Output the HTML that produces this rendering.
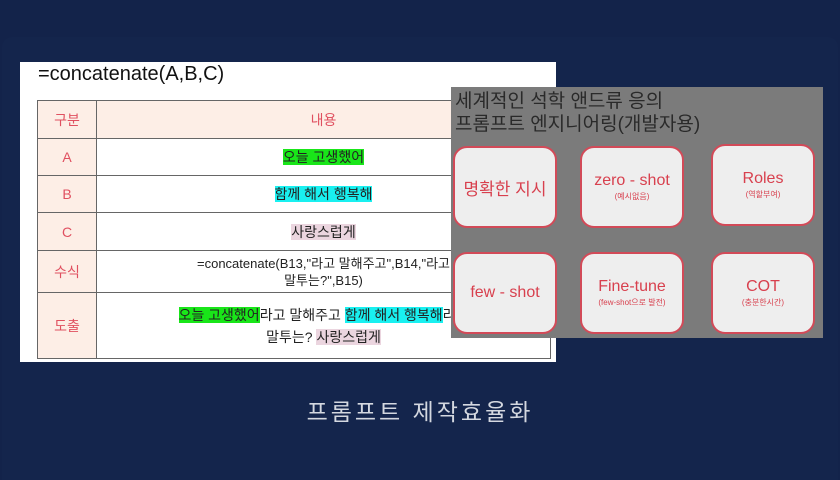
<!DOCTYPE html>
<html><head><meta charset="utf-8"><style>
html,body{margin:0;width:840px;height:480px;overflow:hidden}
body{background:#13234a;position:relative;font-family:"Liberation Sans","Noto Sans CJK KR",sans-serif}
.panel{position:absolute;left:2px;top:37px;width:836px;height:443px;background:#14254c;border-radius:10px 10px 0 0}
.white{position:absolute;left:20px;top:62px;width:536px;height:300px;background:#fff}
.f{position:absolute;left:38px;top:63px;font-size:20px;color:#111}
table{position:absolute;left:37px;top:100px;width:514px;border-collapse:collapse;font-size:14px}
td{border:1.5px solid #666;text-align:center;color:#222;padding:0}
td.k{width:58px;background:#fdeee6;color:#e05060}
.g{background:#19e619}.c{background:#19f0f0}.p{background:#ebd5df}
.gray{position:absolute;left:451px;top:87px;width:372px;height:251px;background:#7b7b7b}
.t{position:absolute;left:455px;top:90px;font-size:19px;color:#2a2a2a;line-height:23px}
.b{position:absolute;width:104px;height:82px;background:#eeeeee;border:2px solid #d24a58;border-radius:14px;box-sizing:border-box;color:#d8404e;text-align:center;display:flex;flex-direction:column;justify-content:center;font-size:16px}
.b small{font-size:8px;margin-top:1px}
.cap{position:absolute;left:0;width:840px;top:393px;text-align:center;font-size:23px;color:#d4d8e0;letter-spacing:3px}
</style></head><body>
<div class="panel"></div>
<div class="white"></div>
<div class="f">=concatenate(A,B,C)</div>
<table>
<tr style="height:38px"><td class="k">구분</td><td style="background:#fdeee6;color:#e05060">내용</td></tr>
<tr style="height:37px"><td class="k">A</td><td><span class="g">오늘 고생했어</span></td></tr>
<tr style="height:37px"><td class="k">B</td><td><span class="c">함께 해서 행복해</span></td></tr>
<tr style="height:38px"><td class="k">C</td><td><span class="p">사랑스럽게</span></td></tr>
<tr style="height:42px"><td class="k">수식</td><td style="font-size:13px;line-height:17px">=concatenate(B13,"라고 말해주고",B14,"라고<br>말투는?",B15)</td></tr>
<tr style="height:66px"><td class="k">도출</td><td style="line-height:22px"><span class="g">오늘 고생했어</span>라고 말해주고 <span class="c">함께 해서 행복해</span>라고<br>말투는? <span class="p">사랑스럽게</span></td></tr>
</table>
<div class="gray"></div>
<div class="t">세계적인 석학 앤드류 응의<br>프롬프트 엔지니어링(개발자용)</div>
<div class="b" style="left:453px;top:146px;font-size:17px">명확한 지시</div>
<div class="b" style="left:580px;top:146px">zero - shot<small>(예시없음)</small></div>
<div class="b" style="left:711px;top:144px">Roles<small>(역할부여)</small></div>
<div class="b" style="left:453px;top:252px">few - shot</div>
<div class="b" style="left:580px;top:252px">Fine-tune<small>(few-shot으로 발전)</small></div>
<div class="b" style="left:711px;top:252px">COT<small>(충분한시간)</small></div>
<div class="cap">프롬프트 제작효율화</div>
</body></html>
